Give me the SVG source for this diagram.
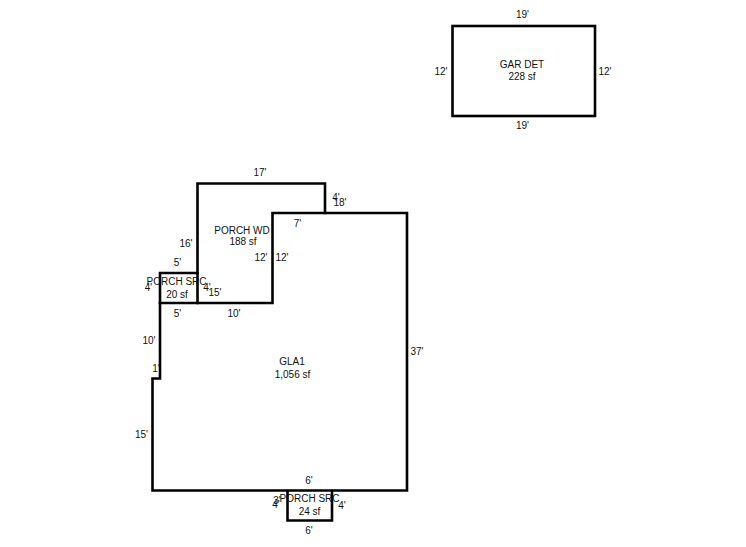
<svg xmlns="http://www.w3.org/2000/svg" width="746" height="547" viewBox="0 0 746 547">
<style>
.w{fill:none;stroke:#000;stroke-width:2.6;stroke-linecap:square;stroke-linejoin:miter}
text{font-family:"Liberation Sans",Arial,sans-serif;font-size:10px;fill:#111;text-anchor:middle}
</style>
<rect width="746" height="547" fill="#fff"/>
<g id="connectors"></g>
<g id="gar-det">
<rect class="w" x="452.500" y="26" width="142.500" height="90"/>
<text x="522.500" y="18">19'</text><text x="522.500" y="128.500">19'</text>
<text x="441" y="74.500">12'</text><text x="605" y="74.500">12'</text>
<text x="522" y="68">GAR DET</text><text x="522" y="80">228 sf</text>
</g>
<g id="porch-wd">
<path class="w" d="M197.500 303V183.500H325V213"/>
<text x="260" y="176">17'</text><text x="186" y="246.500">16'</text>
<text x="336" y="200.500">4'</text><text x="340" y="205.500">18'</text>
<text x="297.500" y="226.500">7'</text>
<text x="261" y="260.500">12'</text><text x="282" y="260.500">12'</text>
<text x="215" y="296">15'</text>
<text x="242" y="234">PORCH WD</text><text x="243" y="245">188 sf</text>
</g>
<g id="porch-src-upper">
<path class="w" d="M160 303V273H197.500"/>
<text x="177.500" y="265.500">5'</text><text x="177.500" y="317">5'</text>
<text x="148.500" y="291">4'</text><text x="207" y="290.500">4'</text>
<text x="176.500" y="285">PORCH SRC</text><text x="177" y="297.500">20 sf</text>
</g>
<g id="gla1">
<path class="w" d="M272.500 213H407V490.500H152.500V378.500H160V303H272.500Z"/>
<text x="234" y="317">10'</text><text x="417" y="354.500">37'</text>
<text x="149" y="344">10'</text><text x="156" y="371.500">1'</text><text x="141.500" y="438">15'</text>
<text x="309" y="484">6'</text>
<text x="292" y="365">GLA1</text><text x="292.500" y="378">1,056 sf</text>
</g>
<g id="porch-src-lower">
<path class="w" d="M287.500 491V520.500H332V491"/>
<text x="277" y="504">3'</text><text x="276" y="508">4'</text><text x="342" y="509">4'</text>
<text x="309" y="534">6'</text>
<text x="309.500" y="502">PORCH SRC</text><text x="309.500" y="515">24 sf</text>
</g>
</svg>
